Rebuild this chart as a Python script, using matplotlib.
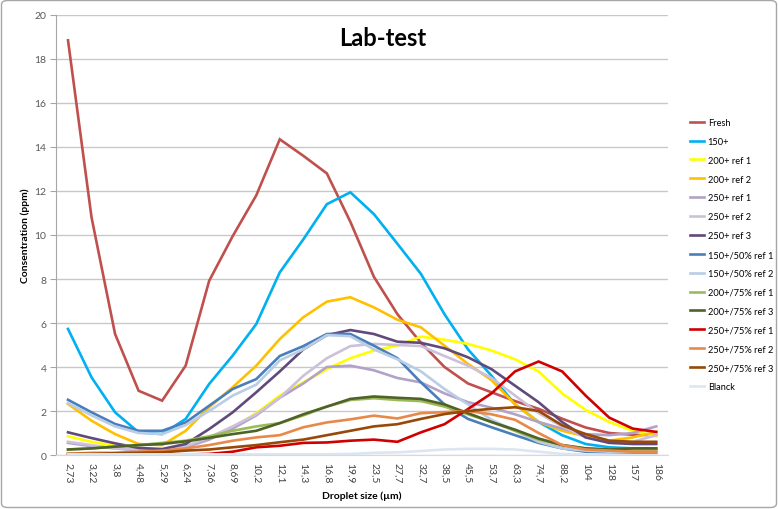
import matplotlib
matplotlib.use("Agg")
import matplotlib.pyplot as plt
from matplotlib.patches import FancyBboxPatch

plt.rcParams['font.family'] = ['Lato', 'DejaVu Sans']

categories = ["2,73", "3,22", "3,8", "4,48", "5,29", "6,24", "7,36", "8,69", "10,2", "12,1",
              "14,3", "16,8", "19,9", "23,5", "27,7", "32,7", "38,5", "45,5", "53,7", "63,3",
              "74,7", "88,2", "104", "128", "157", "186"]

fresh = [18.85, 10.8, 5.5, 2.92, 2.47, 4.06, 7.92, 9.95, 11.8, 14.35, 13.6, 12.8, 10.6, 8.1,
         6.4, 5.1, 4.0, 3.25, 2.85, 2.45, 2.1, 1.65, 1.25, 1.0, 0.92, 0.9]
s150 = [5.73, 3.53, 1.94, 1.03, 0.95, 1.64, 3.23, 4.52, 5.95, 8.3, 9.8, 11.4, 11.94, 10.95,
        9.6, 8.23, 6.4, 4.8, 3.6, 2.3, 1.5, 0.9, 0.5, 0.35, 0.3, 0.3]
s200_r1 = [0.85, 0.6, 0.42, 0.3, 0.25, 0.35, 0.75, 1.25, 1.9, 2.7, 3.3, 3.9, 4.4, 4.75,
           4.97, 5.38, 5.24, 5.05, 4.75, 4.35, 3.8, 2.8, 2.05, 1.5, 1.1, 0.85]
s200_r2 = [2.32, 1.56, 0.95, 0.5, 0.45, 1.1, 2.17, 3.08, 4.06, 5.27, 6.26, 6.97, 7.17, 6.71,
           6.15, 5.8, 4.97, 4.14, 3.4, 2.3, 1.5, 1.1, 0.85, 0.65, 0.8, 1.05]
s250_r1 = [0.55, 0.4, 0.3, 0.2, 0.2, 0.35, 0.7, 1.2, 1.8, 2.6, 3.25, 4.0, 4.06, 3.85,
           3.5, 3.3, 2.8, 2.4, 2.15, 1.85, 1.5, 1.2, 0.95, 0.9, 1.0, 1.3]
s250_r2 = [0.6, 0.45, 0.3, 0.25, 0.2, 0.4, 0.8, 1.3, 1.85, 2.6, 3.6, 4.4, 4.95, 5.05,
           5.0, 4.95, 4.5, 4.06, 3.5, 2.7, 1.9, 1.3, 0.8, 0.6, 0.6, 0.9]
s250_r3 = [1.03, 0.77, 0.53, 0.32, 0.27, 0.5, 1.18, 1.94, 2.85, 3.8, 4.8, 5.45, 5.68, 5.5,
           5.15, 5.1, 4.85, 4.44, 3.9, 3.15, 2.4, 1.5, 0.8, 0.55, 0.5, 0.5]
s150_50_r1 = [2.51, 1.94, 1.41, 1.1, 1.1, 1.48, 2.24, 3.0, 3.45, 4.5, 4.95, 5.5, 5.5, 4.97,
              4.4, 3.3, 2.3, 1.64, 1.26, 0.9, 0.55, 0.3, 0.15, 0.1, 0.1, 0.1]
s150_50_r2 = [2.36, 1.8, 1.3, 1.0, 0.95, 1.36, 2.0, 2.7, 3.2, 4.3, 4.8, 5.45, 5.4, 4.8,
              4.35, 3.8, 3.0, 2.3, 1.6, 1.1, 0.6, 0.3, 0.2, 0.15, 0.15, 0.15]
s200_75_r1 = [0.25, 0.3, 0.38, 0.45, 0.55, 0.65, 0.85, 1.1, 1.3, 1.45, 1.8, 2.2, 2.5, 2.58,
              2.5, 2.45, 2.2, 1.85, 1.5, 1.1, 0.7, 0.45, 0.3, 0.25, 0.25, 0.25]
s200_75_r3 = [0.25, 0.3, 0.38, 0.45, 0.5, 0.62, 0.78, 0.95, 1.1, 1.45, 1.85, 2.2, 2.55, 2.66,
              2.6, 2.55, 2.3, 1.9, 1.5, 1.15, 0.75, 0.45, 0.3, 0.25, 0.3, 0.3]
s250_75_r1 = [0.0, 0.0, 0.0, 0.0, 0.0, 0.02, 0.05, 0.15, 0.35, 0.42, 0.55, 0.57, 0.65, 0.7,
              0.6, 1.03, 1.4, 2.09, 2.8, 3.8, 4.25, 3.8, 2.7, 1.7, 1.2, 1.05]
s250_75_r2 = [0.05, 0.1, 0.1, 0.15, 0.2, 0.3, 0.45, 0.65, 0.8, 0.9, 1.26, 1.48, 1.62, 1.79,
              1.66, 1.9, 1.95, 2.0, 1.85, 1.6, 1.0, 0.45, 0.25, 0.2, 0.15, 0.15]
s250_75_r3 = [0.05, 0.05, 0.08, 0.1, 0.12, 0.2, 0.25, 0.35, 0.45, 0.58, 0.7, 0.9, 1.1, 1.3,
              1.4, 1.64, 1.86, 2.0, 2.1, 2.17, 2.0, 1.35, 0.95, 0.65, 0.6, 0.6]
blanck = [0.03, 0.03, 0.03, 0.03, 0.03, 0.03, 0.03, 0.03, 0.03, 0.03, 0.03, 0.03, 0.05, 0.1,
          0.12, 0.18, 0.25, 0.28, 0.28, 0.25, 0.15, 0.05, 0.02, 0.02, 0.0, 0.0]

series_names = ["Fresh", "150+", "200+ ref 1", "200+ ref 2", "250+ ref 1", "250+ ref 2",
                "250+ ref 3", "150+/50% ref 1", "150+/50% ref 2", "200+/75% ref 1",
                "200+/75% ref 3", "250+/75% ref 1", "250+/75% ref 2", "250+/75% ref 3", "Blanck"]
series_values = [fresh, s150, s200_r1, s200_r2, s250_r1, s250_r2, s250_r3, s150_50_r1,
                 s150_50_r2, s200_75_r1, s200_75_r3, s250_75_r1, s250_75_r2, s250_75_r3, blanck]
colors = ["#C0504D", "#00B0F0", "#FFFF00", "#FFC000", "#B3A2C7", "#CCC1DA", "#604A7B",
          "#4A7EBB", "#B9CDE5", "#9BBB59", "#4F6228", "#D00000", "#E8894A", "#984807", "#DCE6F2"]

W, H = 778, 510
fig = plt.figure(figsize=(W / 100, H / 100), dpi=100)
fig.patch.set_facecolor("white")

# outer chart border
border = FancyBboxPatch((1.5 / W, 1.5 / H), 1 - 3 / W, 1 - 3 / H,
                        boxstyle="round,pad=0,rounding_size=0.008",
                        transform=fig.transFigure, fill=False, edgecolor="#A6A6A6", lw=1.0)
fig.patches.append(border)

left, right, bottom, top = 56.25, 668, 456, 16
ax = fig.add_axes([left / W, 1 - bottom / H, (right - left) / W, (bottom - top) / H])

x = list(range(len(categories)))
for name, vals, c in zip(series_names, series_values, colors):
    ax.plot(x, vals, color=c, lw=1.9, label=name, solid_joinstyle="miter")

ax.set_xlim(-0.5, len(categories) - 0.5)
ax.set_ylim(0, 20)
ax.set_yticks(range(0, 21, 2))
ax.set_xticks(x)
ax.set_xticklabels(categories, rotation=270, fontsize=7.5, color="#404040")
ax.tick_params(axis="x", length=0, pad=5)
ax.tick_params(axis="y", length=4, color="#A6A6A6", labelsize=7.5, labelcolor="#595959", pad=3)
ax.grid(axis="y", color="#C8C8C8", lw=1.0)
ax.set_axisbelow(True)
for s in ["top", "right"]:
    ax.spines[s].set_visible(False)
ax.spines["left"].set_color("#A6A6A6")
ax.spines["bottom"].set_color("#D9D9D9")

ax.set_xlabel("Droplet size (µm)", fontsize=7.5, fontweight="bold", labelpad=6)
ax.set_ylabel("Consentration (ppm)", fontsize=7.5, fontweight="bold", labelpad=3)

fig.text(383 / W, 1 - 38 / H, "Lab-test", ha="center", va="center",
         fontsize=17, fontweight="bold", color="black")

fig.legend(loc="upper left", bbox_to_anchor=(690 / W, 1 - 119 / H), frameon=False,
           fontsize=6.7, labelspacing=1.06, handlelength=1.5, handletextpad=0.4,
           borderpad=0, borderaxespad=0)

fig.savefig("out.png", dpi=100)
